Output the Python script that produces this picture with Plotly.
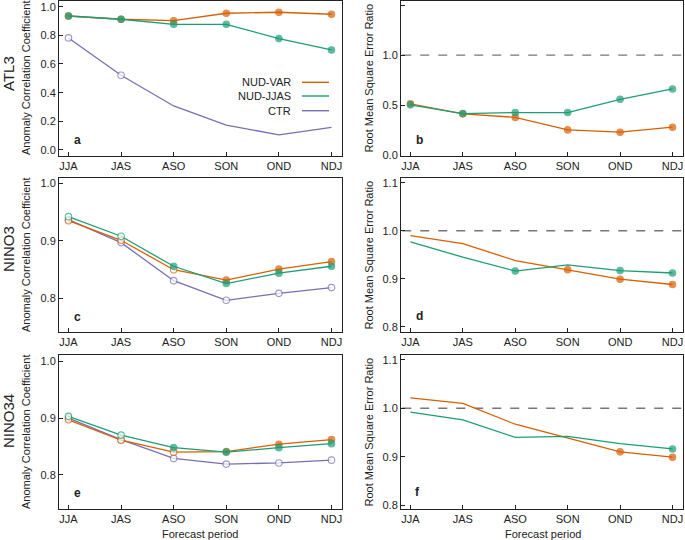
import plotly.graph_objects as go

periods = ["JJA", "JAS", "ASO", "SON", "OND", "NDJ"]
series_names = ["NUD-VAR", "NUD-JJAS", "CTR"]
colors = {"NUD-VAR": "#D95F02", "NUD-JJAS": "#1B9E77", "CTR": "#7570B3"}

# Panel a: ATL3 ACC
a_var = [0.935, 0.912, 0.902, 0.954, 0.961, 0.947]
a_jjas = [0.935, 0.912, 0.877, 0.877, 0.777, 0.698]
a_ctr = [0.782, 0.521, 0.307, 0.174, 0.105, 0.158]
a_var_m = ["f", "f", "f", "f", "f", "f"]
a_jjas_m = ["f", "f", "f", "f", "f", "f"]
a_ctr_m = ["o", "o", "", "", "", ""]

# Panel b: ATL3 RMSE ratio
b_var = [0.515, 0.415, 0.38, 0.255, 0.232, 0.282]
b_jjas = [0.505, 0.418, 0.428, 0.428, 0.56, 0.663]
b_var_m = ["f", "f", "f", "f", "f", "f"]
b_jjas_m = ["f", "f", "f", "f", "f", "f"]

# Panel c: NINO3 ACC
c_var = [0.935, 0.901, 0.850, 0.832, 0.851, 0.864]
c_jjas = [0.942, 0.908, 0.856, 0.826, 0.844, 0.856]
c_ctr = [0.937, 0.897, 0.831, 0.797, 0.809, 0.819]
c_var_m = ["o", "o", "o", "f", "f", "f"]
c_jjas_m = ["o", "o", "f", "f", "f", "f"]
c_ctr_m = ["o", "o", "o", "o", "o", "o"]

# Panel d: NINO3 RMSE ratio
d_var = [0.990, 0.973, 0.938, 0.919, 0.899, 0.888]
d_jjas = [0.977, 0.945, 0.916, 0.929, 0.917, 0.912]
d_var_m = ["", "", "", "f", "f", "f"]
d_jjas_m = ["", "", "f", "", "f", "f"]

# Panel e: NINO34 ACC
e_var = [0.897, 0.861, 0.840, 0.841, 0.854, 0.862]
e_jjas = [0.903, 0.870, 0.848, 0.840, 0.848, 0.855]
e_ctr = [0.900, 0.862, 0.829, 0.819, 0.821, 0.826]
e_var_m = ["o", "o", "o", "f", "f", "f"]
e_jjas_m = ["o", "o", "f", "f", "f", "f"]
e_ctr_m = ["o", "o", "o", "o", "o", "o"]

# Panel f: NINO34 RMSE ratio
f_var = [1.0215, 1.010, 0.967, 0.938, 0.910, 0.899]
f_jjas = [0.992, 0.976, 0.940, 0.942, 0.927, 0.916]
f_var_m = ["", "", "", "", "f", "f"]
f_jjas_m = ["", "", "", "", "", "f"]

yranges = {
    "a": [-0.042, 1.043], "b": [-0.005, 1.545],
    "c": [0.742, 1.009], "d": [0.789, 1.11],
    "e": [0.740, 1.011], "f": [0.792, 1.11],
}
yticks = {
    "a": [0.0, 0.2, 0.4, 0.6, 0.8, 1.0], "b": [0.0, 0.5, 1.0, 1.5],
    "c": [0.8, 0.9, 1.0], "d": [0.8, 0.9, 1.0, 1.1],
    "e": [0.8, 0.9, 1.0], "f": [0.8, 0.9, 1.0, 1.1],
}

W, H = 685, 540
col_px = [(59, 342), (401, 683)]
row_px = [(0.5, 156), (178, 332), (355, 509)]

def px_x(x):
    return x / W

def px_y(y):
    return 1 - y / H

fig = go.Figure()

panels = [
    ("a", 0, 0, [("CTR", a_ctr, a_ctr_m), ("NUD-VAR", a_var, a_var_m), ("NUD-JJAS", a_jjas, a_jjas_m)]),
    ("b", 0, 1, [("NUD-VAR", b_var, b_var_m), ("NUD-JJAS", b_jjas, b_jjas_m)]),
    ("c", 1, 0, [("CTR", c_ctr, c_ctr_m), ("NUD-VAR", c_var, c_var_m), ("NUD-JJAS", c_jjas, c_jjas_m)]),
    ("d", 1, 1, [("NUD-VAR", d_var, d_var_m), ("NUD-JJAS", d_jjas, d_jjas_m)]),
    ("e", 2, 0, [("CTR", e_ctr, e_ctr_m), ("NUD-VAR", e_var, e_var_m), ("NUD-JJAS", e_jjas, e_jjas_m)]),
    ("f", 2, 1, [("NUD-VAR", f_var, f_var_m), ("NUD-JJAS", f_jjas, f_jjas_m)]),
]

font_family = "Liberation Sans, Arial, Helvetica, sans-serif"
axis_color = "#222222"
xpos = list(range(len(periods)))

for i, (letter, r, c, series) in enumerate(panels):
    idx = "" if i == 0 else str(i + 1)
    xa, ya = "x" + idx, "y" + idx
    if c == 1:
        fig.add_trace(go.Scatter(
            x=[-0.5, 5.5], y=[1.0, 1.0], xaxis=xa, yaxis=ya, mode="lines",
            line=dict(color="#777777", width=1.3, dash="dash"),
            showlegend=False, hoverinfo="skip"))
    for name, vals, marks in series:
        col = colors[name]
        sizes = [6.5 if m else 0 for m in marks]
        fills = [col if m == "f" else "white" for m in marks]
        fig.add_trace(go.Scatter(
            x=xpos, y=vals, xaxis=xa, yaxis=ya, mode="lines+markers",
            name=name, showlegend=False,
            line=dict(color=col, width=1.3),
            marker=dict(symbol="circle", size=sizes, color=fills,
                        line=dict(color=col, width=1.1)),
            cliponaxis=False))
    x0, x1 = col_px[c]
    y0, y1 = row_px[r]
    common = dict(showline=True, mirror=True, linecolor=axis_color, linewidth=1,
                  ticks="inside", ticklen=4, tickcolor=axis_color, showgrid=False,
                  zeroline=False, automargin=False,
                  tickfont=dict(size=11, color=axis_color, family=font_family))
    fig.layout["xaxis" + idx] = dict(
        domain=[px_x(x0), px_x(x1)], anchor=ya, range=[-0.18, 5.2],
        tickvals=xpos, ticktext=periods, **common)
    fig.layout["yaxis" + idx] = dict(
        domain=[px_y(y1), px_y(y0)], anchor=xa, range=yranges[letter],
        tickvals=yticks[letter], ticktext=["%.1f" % v for v in yticks[letter]], **common)

annotations = []

def ann(text, x, y, size, angle=0, xanchor="center", yanchor="middle"):
    annotations.append(dict(text=text, x=px_x(x), y=px_y(y), xref="paper", yref="paper",
                            xanchor=xanchor, yanchor=yanchor, textangle=angle, showarrow=False,
                            font=dict(size=size, color=axis_color, family=font_family)))

letter_pos = {"a": (77, 140), "b": (419, 140), "c": (77, 316.5), "d": (419, 316),
              "e": (77, 492.5), "f": (417, 492)}
for k, (lx, ly) in letter_pos.items():
    ann("<b>%s</b>" % k, lx, ly, 12)

row_centers = [78, 255, 432]
for rc in row_centers:
    ann("Anomaly Correlation Coefficient", 26, rc, 11, angle=-90)
    ann("Root Mean Square Error Ratio", 368.5, rc, 11, angle=-90)

region_labels = ["ATL3", "NINO3", "NINO34"]
region_y = [74, 249, 421]
for lab, ry in zip(region_labels, region_y):
    ann(lab, 8, ry, 15, angle=-90)

for cx in [200, 543]:
    ann("Forecast period", cx, 534, 11)

shapes = []
leg_y = [82.3, 96, 110.7]
for name, ly in zip(series_names, leg_y):
    ann(name, 293, ly, 11, xanchor="right")
    shapes.append(dict(type="line", xref="paper", yref="paper", x0=px_x(302), x1=px_x(329),
                       y0=px_y(ly), y1=px_y(ly), line=dict(color=colors[name], width=1.4)))

fig.update_layout(width=W, height=H, margin=dict(l=0, r=0, t=0, b=0, pad=0),
                  paper_bgcolor="white", plot_bgcolor="white",
                  annotations=annotations, shapes=shapes, showlegend=False,
                  font=dict(family=font_family))

fig.write_html("out.html", config={"displayModeBar": False},
               post_script="document.body.style.margin='0';document.body.style.overflow='hidden';")
